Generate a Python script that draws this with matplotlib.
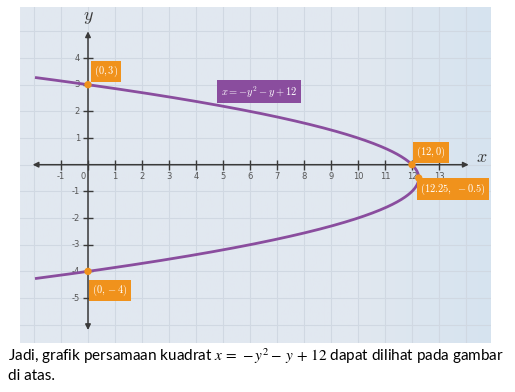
import numpy as np
import matplotlib
matplotlib.use('Agg')
import matplotlib.pyplot as plt
from matplotlib.colors import LinearSegmentedColormap

plt.rcParams['mathtext.fontset'] = 'cm'

# parabola x = a*y^2 + b*y + c
coef_a, coef_b, coef_c = -1, -1, 12
y_range = (-4.27, 3.27)

# highlighted points and their labels
pt_x = [0, 0, 12, 12.25]
pt_y = [3, -4, 0, -0.5]
pt_labels = ['$(0, 3)$', '$(0, -4)$', '$(12, 0)$', '$(12.25,\\ -0.5)$']
pt_offsets = [(18, 13), (22, -19), (19, 12), (34, -11)]  # pixels

x_ticks = list(range(-1, 14))
y_ticks = [-5, -4, -3, -2, -1, 1, 2, 3, 4]

PURPLE = '#8a4d9e'
ORANGE = '#f0921c'
AXIS = '#3a3a3a'

fig = plt.figure(figsize=(5.15, 3.92), dpi=100)
W, H = 515, 392
ax = fig.add_axes([20 / W, 1 - 343 / H, 471 / W, 336 / H])

x0, ppx = 88, 27.0
y0, ppy = 164.7, 26.67
ax.set_xlim((20 - x0) / ppx, (491 - x0) / ppx)
ax.set_ylim((y0 - 343) / ppy, (y0 - 7) / ppy)
ax.set_axis_off()

# background with a soft blue tint towards the right
cmap = LinearSegmentedColormap.from_list(
    'bg', [(0, '#e2e8f0'), (0.72, '#e1e8f0'), (1, '#d6e3ef')])
ax.imshow(np.linspace(0, 1, 256).reshape(1, -1), cmap=cmap, aspect='auto',
          extent=[*ax.get_xlim(), *ax.get_ylim()], zorder=0)

# grid
for gx in range(-2, 15):
    ax.axvline(gx, color='#d0d8e2', lw=0.8, zorder=1)
for gy in range(-6, 6):
    ax.axhline(gy, color='#d0d8e2', lw=0.8, zorder=1)

# axes with arrows
ax.annotate('', xy=(14.1, 0), xytext=(-2.05, 0),
            arrowprops=dict(arrowstyle='<|-|>', color=AXIS, lw=1.1,
                            mutation_scale=8, shrinkA=0, shrinkB=0), zorder=2)
ax.annotate('', xy=(0, 5.0), xytext=(0, -6.2),
            arrowprops=dict(arrowstyle='<|-|>', color=AXIS, lw=1.1,
                            mutation_scale=8, shrinkA=0, shrinkB=0), zorder=2)

ax.plot(x_ticks, [0] * len(x_ticks), ls='none', marker='|', ms=7,
        mew=1.0, color=AXIS, zorder=2)
ax.plot([0] * len(y_ticks), y_ticks, ls='none', marker='_', ms=7,
        mew=1.0, color=AXIS, zorder=2)

for t in x_ticks:
    if t == 0:
        continue
    ax.annotate(str(t), (t, 0), xytext=(0, -12),
                textcoords='offset pixels', ha='center', va='center',
                fontsize=6, color='#555555', zorder=3)
ax.annotate('0', (0, 0), xytext=(-5, -12), textcoords='offset pixels',
            ha='center', va='center', fontsize=6, color='#555555', zorder=3)
for t in y_ticks:
    ax.annotate(str(t), (0, t), xytext=(-8, 0), textcoords='offset pixels',
                ha='right', va='center', fontsize=6, color='#555555', zorder=3)

ax.text(14.6, 0.28, '$x$', fontsize=13, color=AXIS, ha='center', va='center')
ax.text(0.0, 5.55, '$y$', fontsize=13, color=AXIS, ha='center', va='center')

# curve
yy = np.linspace(*y_range, 400)
xx = coef_a * yy ** 2 + coef_b * yy + coef_c
ax.plot(xx, yy, color=PURPLE, lw=2, zorder=4, solid_capstyle='butt')

ax.text(6.33, 2.73, '$x = -y^2 - y + 12$', fontsize=7.5, color='white',
        ha='center', va='center', zorder=6,
        bbox=dict(boxstyle='square,pad=0.35', fc=PURPLE, ec='none'))

# points
ax.scatter(pt_x, pt_y, s=28, color=ORANGE, zorder=5, edgecolors='none')
for px, py, lab, off in zip(pt_x, pt_y, pt_labels, pt_offsets):
    ax.annotate(lab, (px, py), xytext=off, textcoords='offset pixels',
                ha='center', va='center', fontsize=7.5, color='white', zorder=6,
                bbox=dict(boxstyle='square,pad=0.3', fc=ORANGE, ec='none'))

# caption under the chart
fig.text(8 / W, 1 - 356 / H,
         'Jadi, grafik persamaan kuadrat $x\\,=\\,-y^2-\\,y\\,+\\,12$ dapat dilihat pada gambar',
         fontsize=11.0, family='Lato', math_fontfamily='stix', va='center')
fig.text(8 / W, 1 - 376 / H, 'di atas.', fontsize=11.0, family='Lato',
         va='center')

fig.savefig('out.png', dpi=100)
